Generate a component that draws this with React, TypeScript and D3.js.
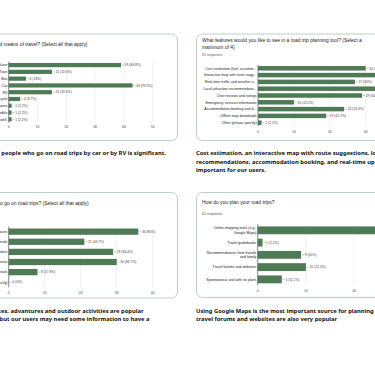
import React from "react";
import * as d3 from "d3";

// ---------- DATA ----------
const travelModes = ["Airplane", "Train", "Bus", "Car", "RV", "Motorcycle", "Cruises", "Snowmobile", "Other, as well."];
const travelCounts = [39, 15, 6, 43, 15, 4, 1, 1, 1];
const travelPct = ["84.8%", "32.6%", "13%", "93.5%", "32.6%", "8.7%", "2.2%", "2.2%", "2.2%"];
const travelTicks = [0, 10, 20, 30, 40, 50];

const featureNames = [
  "Cost estimation (fuel, accomm...",
  "Interactive map with route sugg...",
  "Real-time traffic and weather u...",
  "Local attraction recommendatio...",
  "User reviews and ratings",
  "Emergency services information",
  "Accommodation booking and d...",
  "Offline map downloads",
  "Other (please specify)",
];
const featureCounts = [30, 35, 27, 34, 29, 10, 24, 19, 1];
const featurePct = ["66.7%", "77.8%", "60%", "75.6%", "64.4%", "22.2%", "53.3%", "42.2%", "2.2%"];
const featureTicks = [0, 10, 20, 30, 40];

const reasonNames = ["Exploring new places", "Visiting family and friends", "Outdoor activities", "Adventure", "Trying local meals", "Other (please specify)"];
const reasonCounts = [36, 21, 29, 30, 8, 0];
const reasonPct = ["80%", "46.7%", "64.4%", "66.7%", "17.8%", "0%"];
const reasonTicks = [0, 10, 20, 30, 40];

const planNames = [
  ["Online mapping tools (e.g.,", "Google Maps)"],
  ["Travel guidebooks"],
  ["Recommendations from friends", "and family"],
  ["Travel forums and websites"],
  ["Spontaneous and with no plans"],
];
const planCounts = [39, 1, 9, 10, 5];
const planPct = ["86.7%", "2.2%", "20%", "22.2%", "11.1%"];
const planTicks = [0, 10, 20, 30, 40];

// ---------- STYLE ----------
const BAR = "#4e7b55";
const CARD = "#b3ccb8";
const GRID = "#e3e3e3";
const CHART_FONT = "'Liberation Sans', Arial, sans-serif";
const CAP_FONT = "'Noto Sans', sans-serif";
const TITLE_SIZE = 4.95;
const CAP_SIZE = 5.8;

type ChartProps = {
  labels: string[][];
  counts: number[];
  pct: string[];
  ticks: number[];
  x0: number;
  x10: number;
  top: number;
  bottom: number;
  padding: number;
  labelX: number;
  axisY: number;
  labelSize: number;
};

function BarChart(p: ChartProps) {
  const unit = (p.x10 - p.x0) / 10;
  const dmax = p.ticks[p.ticks.length - 1];
  const x = d3.scaleLinear().domain([0, dmax]).range([p.x0, p.x0 + unit * dmax]);
  const y = d3
    .scaleBand<number>()
    .domain(p.counts.map((_, i) => i))
    .range([p.top, p.bottom])
    .paddingInner(p.padding)
    .paddingOuter(p.padding / 2);
  return (
    <g fontFamily={CHART_FONT}>
      {p.ticks.map((t) => (
        <line key={"g" + t} x1={x(t)} x2={x(t)} y1={p.top} y2={p.bottom} stroke={t === 0 ? "#333" : GRID} strokeWidth={t === 0 ? 0.6 : 0.5} />
      ))}
      {p.ticks.map((t) => (
        <text key={"t" + t} x={x(t)} y={p.axisY} fontSize={3.4} fill="#444" textAnchor="middle">
          {t}
        </text>
      ))}
      {p.counts.map((c, i) => {
        const yc = (y(i) as number) + y.bandwidth() / 2;
        const xe = x(c);
        const lines = p.labels[i];
        return (
          <g key={i}>
            <rect x={x(0)} y={y(i)} width={Math.max(0, xe - x(0))} height={y.bandwidth()} fill={BAR} />
            <line x1={xe + 0.6} x2={xe + 3} y1={yc} y2={yc} stroke="#777" strokeWidth={0.4} />
            <text x={xe + 3.6} y={yc + 1.2} fontSize={3.3} fill="#444">
              {c} ({p.pct[i]})
            </text>
            {lines.map((l, k) => (
              <text
                key={k}
                x={p.labelX}
                y={yc + 1.3 + (k - (lines.length - 1) / 2) * 4.6}
                fontSize={p.labelSize}
                fill="#222"
                textAnchor="end"
              >
                {l}
              </text>
            ))}
          </g>
        );
      })}
    </g>
  );
}

export default function App() {
  const capStyle = { fontFamily: CAP_FONT, fontWeight: 700 as const, fill: "#111" };
  return (
    <svg width={375} height={366} style={{ position: "absolute", left: 0, top: 0, background: "#fff" }}>
      <rect width={375} height={366} fill="#fff" />
      {/* Cards */}
      <rect x={-12} y={34} width={189.5} height={106.5} rx={6} fill="#fff" stroke={CARD} strokeWidth={0.9} />
      <rect x={196.5} y={34} width={200} height={106.5} rx={6} fill="#fff" stroke={CARD} strokeWidth={0.9} />
      <rect x={-12} y={192.5} width={189.5} height={105.5} rx={6} fill="#fff" stroke={CARD} strokeWidth={0.9} />
      <rect x={196.5} y={192.5} width={200} height={105} rx={6} fill="#fff" stroke={CARD} strokeWidth={0.9} />

      {/* Titles */}
      <g fontFamily={CHART_FONT} fill="#202124">
        <text x={87.5} y={45.7} fontSize={TITLE_SIZE} textAnchor="end">
          What is your preferred means of travel? (Select all that apply)
        </text>
        <text x={202} y={41.7} fontSize={TITLE_SIZE}>
          What features would you like to see in a road trip planning tool? (Select a
        </text>
        <text x={202} y={48.5} fontSize={TITLE_SIZE}>
          maximum of 4)
        </text>
        <text x={202} y={55.6} fontSize={3.4} fill="#555">
          45 responses
        </text>
        <text x={88.7} y={204.7} fontSize={TITLE_SIZE} textAnchor="end">
          What are your main reasons to go on road trips? (Select all that apply)
        </text>
        <text x={202} y={203.7} fontSize={TITLE_SIZE}>
          How do you plan your road trips?
        </text>
        <text x={202} y={215.4} fontSize={3.4} fill="#555">
          45 responses
        </text>
      </g>

      <BarChart
        labels={travelModes.map((d) => [d])}
        counts={travelCounts}
        pct={travelPct}
        ticks={travelTicks}
        x0={8.7}
        x10={37.5}
        top={61.7}
        bottom={122.7}
        padding={0.38}
        labelX={7.4}
        axisY={128}
        labelSize={3.6}
      />
      <BarChart
        labels={featureNames.map((d) => [d])}
        counts={featureCounts}
        pct={featurePct}
        ticks={featureTicks}
        x0={258}
        x10={293.9}
        top={64.9}
        bottom={126.1}
        padding={0.34}
        labelX={256.6}
        axisY={133}
        labelSize={3.6}
      />
      <BarChart
        labels={reasonNames.map((d) => [d])}
        counts={reasonCounts}
        pct={reasonPct}
        ticks={reasonTicks}
        x0={8.7}
        x10={44.7}
        top={226.6}
        bottom={287.3}
        padding={0.38}
        labelX={7.4}
        axisY={294.3}
        labelSize={3.6}
      />
      <BarChart
        labels={planNames}
        counts={planCounts}
        pct={planPct}
        ticks={planTicks}
        x0={257.7}
        x10={305.9}
        top={224.2}
        bottom={285.5}
        padding={0.36}
        labelX={256.4}
        axisY={292}
        labelSize={3.6}
      />

      {/* Captions */}
      <g {...capStyle} fontSize={CAP_SIZE}>
        <text x={166} y={155.3} textAnchor="end">
          The number of people who go on road trips by car or by RV is significant.
        </text>
        <text x={196} y={155.3}>
          Cost estimation, an interactive map with route suggestions, local attraction
        </text>
        <text x={196} y={163.5}>
          recommendations, accommodation booking, and real-time updates are
        </text>
        <text x={196} y={171.7}>
          important for our users.
        </text>
        <text x={143.5} y={312.5} textAnchor="end">
          Scenic places, advantures and outdoor activities are popular
        </text>
        <text x={149.5} y={320.7} textAnchor="end">
          reasons for road trips, but our users may need some information to have a
        </text>
        <text x={196} y={312.5}>
          Using Google Maps is the most important source for planning
        </text>
        <text x={196} y={320.7}>
          travel forums and websites are also very popular
        </text>
      </g>
    </svg>
  );
}
